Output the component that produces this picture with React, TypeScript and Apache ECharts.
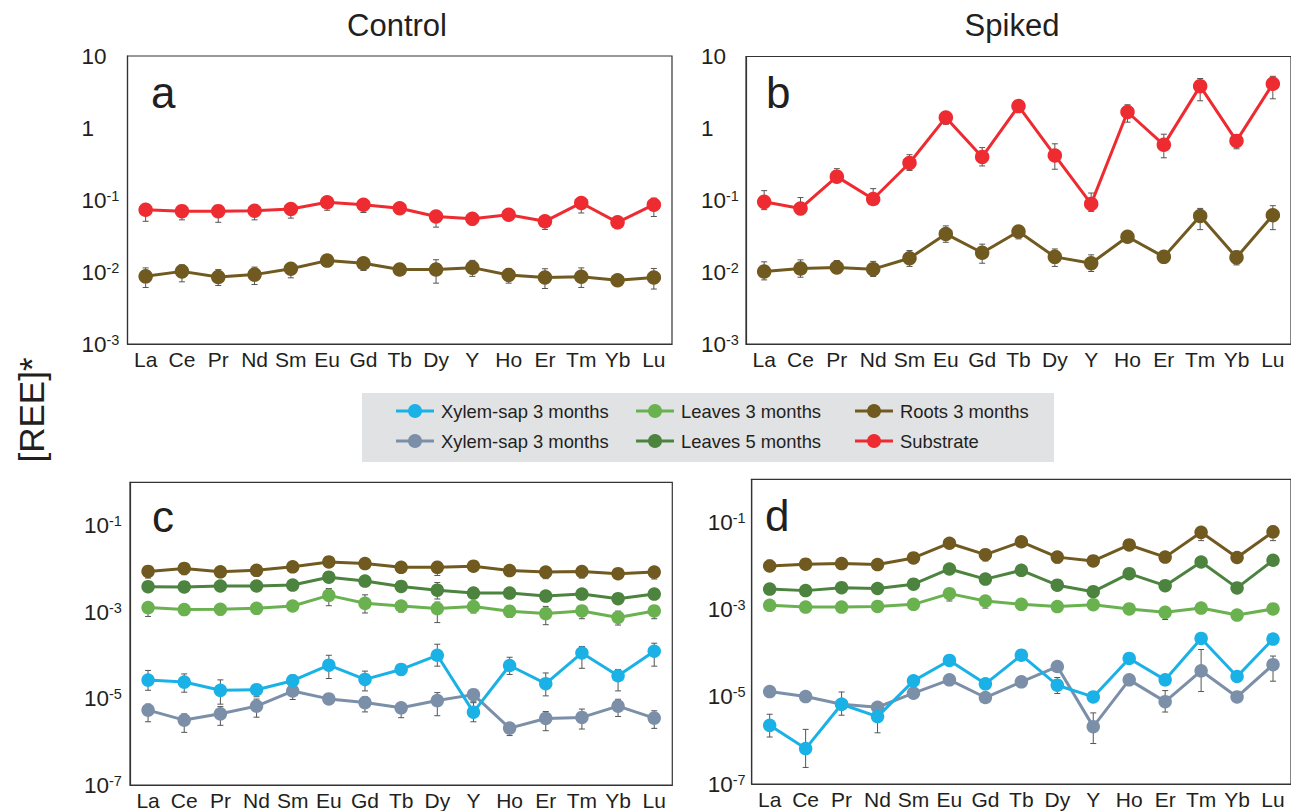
import React, { useEffect, useRef } from "react";
import * as echarts from "echarts";

const categories = ["La", "Ce", "Pr", "Nd", "Sm", "Eu", "Gd", "Tb", "Dy", "Y", "Ho", "Er", "Tm", "Yb", "Lu"];

// ---- Control ----
const substrateControl = [0.073, 0.07, 0.07, 0.071, 0.075, 0.093, 0.086, 0.077, 0.059, 0.055, 0.0625, 0.0506, 0.091, 0.049, 0.086];
const rootsControl = [0.0087, 0.0102, 0.0085, 0.0092, 0.0111, 0.0144, 0.0132, 0.0108, 0.0108, 0.0115, 0.0091, 0.0084, 0.0086, 0.0077, 0.0084];
const leaves3Control = [0.00127, 0.00114, 0.00116, 0.00122, 0.00138, 0.00243, 0.00159, 0.00138, 0.0012, 0.00134, 0.00104, 0.00092, 0.00106, 0.00075, 0.00106];
const leaves5Control = [0.00385, 0.0038, 0.004, 0.004, 0.0042, 0.0064, 0.0052, 0.0039, 0.0032, 0.00275, 0.00275, 0.00234, 0.0026, 0.00204, 0.0026];
const xylemAControl = [2.67e-5, 2.4e-5, 1.55e-5, 1.6e-5, 2.58e-5, 5.9e-5, 2.77e-5, 4.7e-5, 1.0e-4, 4.84e-6, 5.8e-5, 2.2e-5, 1.13e-4, 3.36e-5, 1.24e-4];
const xylemBControl = [5.4e-6, 3.17e-6, 4.43e-6, 6.65e-6, 1.49e-5, 9.8e-6, 8.07e-6, 6.1e-6, 8.97e-6, 1.23e-5, 2.07e-6, 3.46e-6, 3.65e-6, 6.65e-6, 3.52e-6];

const errSubstrateControl = [[0.0506, 0.086], [0.053, 0.077], [0.049, 0.084], [0.053, 0.082], [0.056, 0.086], [0.072, 0.105], [0.067, 0.096], null, [0.042, 0.07], [0.045, 0.062], null, [0.039, 0.059], [0.066, 0.1], [0.04, 0.056], [0.059, 0.106]];
const errRootsControl = [[0.0061, 0.0114], [0.0073, 0.0126], [0.0065, 0.0108], [0.0067, 0.0117], [0.0083, 0.013], null, [0.0105, 0.0155], null, [0.007, 0.0148], [0.0087, 0.0145], [0.007, 0.0112], [0.0059, 0.0111], [0.0061, 0.0114], null, [0.0058, 0.0112]];
const errLeaves3Control = [[0.00079, 0.00166], [0.00085, 0.0015], [0.00086, 0.0015], [0.0009, 0.0015], [0.00105, 0.0017], [0.0014, 0.0035], [0.00095, 0.0025], [0.001, 0.0018], [0.00057, 0.0017], [0.00095, 0.0017], [0.00075, 0.0014], [0.00051, 0.00135], [0.0007, 0.0014], [0.0005, 0.00105], [0.0007, 0.0014]];
const errLeaves5Control = [[0.0031, 0.0047], [0.0031, 0.0046], [0.0033, 0.0048], [0.0033, 0.0048], [0.0035, 0.005], [0.0052, 0.0078], [0.004, 0.0068], [0.0032, 0.0047], [0.002, 0.0048], [0.0023, 0.0033], [0.0023, 0.0033], [0.0018, 0.003], [0.0021, 0.0032], [0.0017, 0.0025], [0.0021, 0.0031]];
const errXylemAControl = [[1.55e-5, 4.46e-5], [1.4e-5, 3.7e-5], [7.4e-6, 2.7e-5], [1.1e-5, 2.1e-5], [1.7e-5, 3.5e-5], [2.9e-5, 1.0e-4], [1.5e-5, 4.3e-5], [3.5e-5, 6.0e-5], [5.6e-5, 1.8e-4], [2.9e-6, 8e-6], [3.6e-5, 9e-5], [1.15e-5, 3.9e-5], [5e-5, 1.6e-4], [1.5e-5, 4.7e-5], [5.6e-5, 1.9e-4]];
const errXylemBControl = [[2.9e-6, 7.4e-6], [1.65e-6, 4.4e-6], [2.4e-6, 6.5e-6], [3.7e-6, 9.7e-6], [9.5e-6, 2.0e-5], null, [4.9e-6, 1.1e-5], [3.6e-6, 8.1e-6], [4.0e-6, 1.37e-5], [8.4e-6, 1.63e-5], [1.39e-6, 2.57e-6], [1.8e-6, 5.0e-6], [1.97e-6, 5.7e-6], [3.85e-6, 9.6e-6], [2.04e-6, 5.2e-6]];

// ---- Spiked ----
const substrateSpiked = [0.095, 0.077, 0.213, 0.104, 0.33, 1.42, 0.4, 2.04, 0.42, 0.089, 1.69, 0.59, 3.87, 0.67, 4.17];
const rootsSpiked = [0.0102, 0.0112, 0.0116, 0.011, 0.0156, 0.034, 0.0186, 0.0367, 0.0163, 0.0133, 0.031, 0.0163, 0.0605, 0.016, 0.062];
const leaves3Spiked = [0.00127, 0.00116, 0.00116, 0.0012, 0.00134, 0.00236, 0.0016, 0.00134, 0.00119, 0.00132, 0.00105, 0.00088, 0.0011, 0.00076, 0.00105];
const leaves5Spiked = [0.003, 0.00277, 0.00324, 0.0031, 0.0039, 0.0087, 0.0051, 0.0081, 0.0037, 0.00262, 0.0068, 0.0036, 0.0126, 0.0032, 0.0138];
const xylemASpiked = [2.23e-6, 6.5e-7, 6.8e-6, 3.54e-6, 2.34e-5, 6.9e-5, 2.0e-5, 9.1e-5, 1.86e-5, 1.0e-5, 7.66e-5, 2.47e-5, 2.21e-4, 2.95e-5, 2.13e-4];
const xylemBSpiked = [1.33e-5, 1.02e-5, 6.8e-6, 5.8e-6, 1.22e-5, 2.47e-5, 9.7e-6, 2.22e-5, 5.0e-5, 2.08e-6, 2.47e-5, 7.8e-6, 3.98e-5, 1.0e-5, 5.5e-5];

const errSubstrateSpiked = [[0.074, 0.136], [0.063, 0.109], [0.177, 0.275], [0.09, 0.145], [0.26, 0.43], [1.14, 1.6], [0.3, 0.54], null, [0.27, 0.61], [0.07, 0.126], [1.22, 2.13], [0.39, 0.83], [2.42, 4.94], [0.52, 0.81], [2.58, 5.3]];
const errRootsSpiked = [[0.0078, 0.0139], [0.0085, 0.0148], [0.0099, 0.0145], [0.0087, 0.0141], [0.012, 0.02], [0.026, 0.044], [0.0133, 0.0245], [0.029, 0.044], [0.012, 0.021], [0.0102, 0.0174], null, null, [0.039, 0.077], [0.0126, 0.0198], [0.039, 0.084]];
const errLeaves3Spiked = [[0.0011, 0.0015], [0.00095, 0.0014], null, null, null, [0.0016, 0.003], [0.0011, 0.0019], null, null, null, null, [0.0006, 0.0011], [0.0009, 0.0013], null, [0.0008, 0.0014]];
const errLeaves5Spiked = [null, null, null, null, null, null, [0.0041, 0.006], null, [0.0028, 0.0045], null, [0.0055, 0.0082], [0.0028, 0.0046], [0.01, 0.015], null, [0.011, 0.016]];
const errXylemASpiked = [[1.2e-6, 4e-6], [2.4e-7, 1.8e-6], [3.8e-6, 1.3e-5], [1.5e-6, 6.8e-6], null, null, null, null, [1.2e-5, 2.8e-5], null, null, null, null, null, null];
const errXylemBSpiked = [null, null, null, null, null, null, null, null, null, [8.5e-7, 4.3e-6], null, [4.5e-6, 1.4e-5], [1.33e-5, 1.23e-4], [8e-6, 1.2e-5], [2.3e-5, 8.7e-5]];

const tickTop = [0.001, 0.01, 0.1, 1, 10];
const tickBottom = [1e-7, 1e-5, 1e-3, 1e-1];

const C = {
  substrate: "#ee2b30",
  roots: "#715a1f",
  leaves3: "#6ab150",
  leaves5: "#4b833f",
  xylemA: "#19b1e6",
  xylemB: "#7b8fa8",
};

const FONT = "'Liberation Sans', Arial, sans-serif";
const TXT = "#231f20";
const AX = "#333333";

export default function App() {
  const ref = useRef<HTMLDivElement>(null);

  useEffect(() => {
    if (!ref.current) return;
    const chart = echarts.init(ref.current, undefined, { renderer: "svg" });

    const grids = [
      { left: 127.5, top: 56, width: 544.5, height: 288 },
      { left: 746, top: 56.5, width: 546, height: 287.5 },
      { left: 130, top: 482.3, width: 542.3, height: 303.7 },
      { left: 751.7, top: 479.3, width: 541.5, height: 304.7 },
    ];

    const fmt = (v: number) => {
      const e = Math.round(Math.log10(v));
      if (e === 0) return "{b|1}";
      if (e === 1) return "{b|10}";
      return "{b|10}{s|" + e + "}";
    };

    const xAxes = grids.map((_, i) => ({
      gridIndex: i,
      type: "category",
      data: categories,
      boundaryGap: true,
      axisLine: { lineStyle: { color: AX, width: 1.2 } },
      axisTick: { inside: true, length: 4, lineStyle: { color: AX, width: 1 } },
      axisLabel: { interval: 0, fontSize: 21, color: TXT, margin: 5, fontFamily: FONT },
      splitLine: { show: false },
    }));

    const yAxes = grids.map((_, i) => {
      const top = i < 2;
      return {
        gridIndex: i,
        type: "log",
        logBase: 10,
        min: top ? 0.001 : 1e-7,
        max: top ? 10 : 1,
        axisLine: { show: true, lineStyle: { color: AX, width: 1.2 } },
        axisTick: { inside: true, length: 5, lineStyle: { color: AX }, customValues: top ? tickTop : tickBottom },
        minorTick: { show: false },
        splitLine: { show: false },
        axisLabel: {
          customValues: top ? tickTop : tickBottom,
          align: "left",
          margin: i === 3 ? 44 : i === 1 ? 45 : 46,
          formatter: fmt,
          rich: {
            b: { fontSize: 22.5, color: TXT, fontFamily: FONT },
            s: { fontSize: 14.5, color: TXT, fontFamily: FONT, padding: [0, 0, 9, 0] },
          },
        },
      };
    });

    const series: any[] = [];
    const errRender = (params: any, api: any) => {
      const x = api.value(0);
      const lo = api.coord([x, api.value(1)]);
      const hi = api.coord([x, api.value(2)]);
      const w = 3;
      const st = { stroke: "#555555", lineWidth: 1 };
      return {
        type: "group",
        children: [
          { type: "line", shape: { x1: lo[0], y1: lo[1], x2: hi[0], y2: hi[1] }, style: st },
          { type: "line", shape: { x1: lo[0] - w, y1: lo[1], x2: lo[0] + w, y2: lo[1] }, style: st },
          { type: "line", shape: { x1: hi[0] - w, y1: hi[1], x2: hi[0] + w, y2: hi[1] }, style: st },
        ],
      };
    };

    const add = (i: number, name: string, data: number[], err: (number[] | null)[], color: string, z: number) => {
      const big = i < 2;
      series.push({
        type: "custom",
        name: name + " error",
        xAxisIndex: i,
        yAxisIndex: i,
        renderItem: errRender,
        encode: { x: 0, y: [1, 2] },
        data: err.map((e, k) => (e ? [k, e[0], e[1]] : null)).filter((d) => d),
        z: 1,
        silent: true,
      });
      series.push({
        type: "line",
        name,
        xAxisIndex: i,
        yAxisIndex: i,
        data,
        symbol: "circle",
        symbolSize: big ? 14.5 : 13.5,
        lineStyle: { color, width: 3 },
        itemStyle: { color, borderWidth: 0 },
        z: z,
        emphasis: { disabled: true },
      });
    };

    add(0, "Substrate", substrateControl, errSubstrateControl, C.substrate, 3);
    add(0, "Roots 3 months", rootsControl, errRootsControl, C.roots, 3);
    add(1, "Substrate", substrateSpiked, errSubstrateSpiked, C.substrate, 3);
    add(1, "Roots 3 months", rootsSpiked, errRootsSpiked, C.roots, 3);

    add(2, "Roots 3 months", rootsControl, errRootsControl, C.roots, 3);
    add(2, "Leaves 5 months", leaves5Control, errLeaves5Control, C.leaves5, 3);
    add(2, "Leaves 3 months", leaves3Control, errLeaves3Control, C.leaves3, 3);
    add(2, "Xylem-sap 3 months (b)", xylemBControl, errXylemBControl, C.xylemB, 3);
    add(2, "Xylem-sap 3 months", xylemAControl, errXylemAControl, C.xylemA, 4);

    add(3, "Roots 3 months", rootsSpiked, errRootsSpiked, C.roots, 3);
    add(3, "Leaves 5 months", leaves5Spiked, errLeaves5Spiked, C.leaves5, 3);
    add(3, "Leaves 3 months", leaves3Spiked, errLeaves3Spiked, C.leaves3, 3);
    add(3, "Xylem-sap 3 months (b)", xylemBSpiked, errXylemBSpiked, C.xylemB, 3);
    add(3, "Xylem-sap 3 months", xylemASpiked, errXylemASpiked, C.xylemA, 4);

    const text = (t: string, x: number, y: number, size: number, align = "left", extra: any = {}) => ({
      type: "text",
      x,
      y,
      style: { text: t, fontSize: size, fontFamily: FONT, fill: TXT, textAlign: align, textVerticalAlign: "middle", verticalAlign: "middle" },
      ...extra,
    });

    const legendItems = [
      { name: "Xylem-sap 3 months", color: C.xylemA, x: 396, y: 411 },
      { name: "Leaves 3 months", color: C.leaves3, x: 636, y: 411 },
      { name: "Roots 3 months", color: C.roots, x: 855, y: 411 },
      { name: "Xylem-sap 3 months", color: C.xylemB, x: 396, y: 441 },
      { name: "Leaves 5 months", color: C.leaves5, x: 636, y: 441 },
      { name: "Substrate", color: C.substrate, x: 855, y: 441 },
    ];

    const graphic: any[] = [
      text("Control", 397, 25, 31, "center"),
      text("Spiked", 1012, 25, 31, "center"),
      text("[REE]*", 31, 410, 35, "center", { rotation: Math.PI / 2 }),
      text("a", 151, 92, 44),
      text("b", 766, 92, 44),
      text("c", 152, 516, 44),
      text("d", 765, 515, 44),
      { type: "rect", shape: { x: 362, y: 393, width: 692, height: 69 }, style: { fill: "#e1e2e4" }, z: -1 },
    ];
    legendItems.forEach((it) => {
      graphic.push({ type: "line", shape: { x1: it.x, y1: it.y, x2: it.x + 38, y2: it.y }, style: { stroke: it.color, lineWidth: 3 } });
      graphic.push({ type: "circle", shape: { cx: it.x + 19, cy: it.y, r: 7 }, style: { fill: it.color } });
      graphic.push(text(it.name, it.x + 45, it.y, 18.4));
    });

    chart.setOption({
      animation: false,
      backgroundColor: "#ffffff",
      textStyle: { fontFamily: FONT },
      grid: grids.map((g) => ({ ...g, show: true, borderColor: AX, borderWidth: 1.2, backgroundColor: "transparent", containLabel: false })),
      xAxis: xAxes,
      yAxis: yAxes,
      series,
      graphic,
    });

    return () => chart.dispose();
  }, []);

  return <div ref={ref} style={{ position: "absolute", left: 0, top: 0, width: 1291, height: 811 }} />;
}
